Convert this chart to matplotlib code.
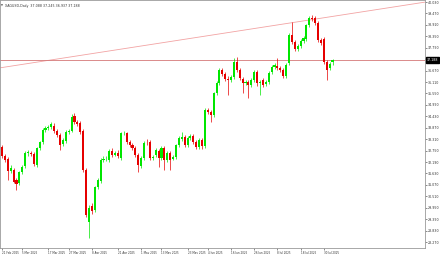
import matplotlib
matplotlib.use("Agg")
import matplotlib.pyplot as plt

# daily XAGUSD bars
opens = [32.93, 32.48, 32.34, 31.75, 31.80, 31.31, 31.16, 31.70, 31.99, 32.63,
         32.63, 32.58, 32.04, 32.88, 33.17, 33.76, 33.86, 33.90, 33.95, 33.71,
         33.51, 33.07, 33.22, 33.66, 33.71, 34.44, 34.15, 34.10, 33.71, 31.80,
         29.25, 30.03, 29.84, 30.97, 31.26, 32.29, 32.34, 32.29, 32.73, 32.53,
         32.63, 32.39, 33.61, 33.61, 33.17, 33.02, 32.88, 32.53, 31.99, 32.39,
         33.17, 33.17, 32.39, 32.53, 32.73, 32.39, 32.88, 32.29, 32.63, 32.34,
         32.44, 33.02, 33.32, 33.41, 33.02, 33.37, 33.46, 33.17, 32.93, 33.27,
         32.97, 34.74, 34.64, 34.49, 35.57, 36.06, 36.70, 36.50, 36.26, 36.21,
         36.35, 37.09, 36.70, 36.26, 36.06, 36.11, 35.96, 36.21, 36.60, 36.06,
         36.21, 36.01, 36.11, 36.60, 36.85, 36.89, 36.80, 36.70, 36.40, 37.04,
         38.41, 38.07, 37.73, 37.87, 38.12, 38.22, 38.90, 39.25, 39.25, 39.00,
         38.17, 38.22, 37.09, 36.80, 37.09]
highs = [33.02, 32.58, 32.44, 32.04, 31.90, 31.41, 31.75, 32.04, 32.73, 32.78,
         32.73, 32.68, 32.93, 33.22, 33.86, 33.95, 34.00, 34.15, 34.10, 33.81,
         33.61, 33.37, 33.76, 33.81, 34.54, 34.59, 34.25, 34.20, 33.81, 31.90,
         30.08, 30.18, 31.01, 31.41, 32.39, 32.48, 32.48, 32.83, 32.88, 32.73,
         32.78, 33.66, 33.71, 33.66, 33.27, 33.12, 32.97, 32.63, 32.48, 33.22,
         33.32, 33.27, 32.53, 32.88, 32.83, 32.97, 32.97, 32.73, 32.73, 32.53,
         33.07, 33.46, 33.66, 33.51, 33.46, 33.56, 33.56, 33.27, 33.37, 33.37,
         34.84, 34.84, 34.74, 35.62, 36.16, 36.80, 36.80, 36.60, 36.40, 36.45,
         37.29, 37.34, 36.80, 36.35, 36.21, 36.21, 36.31, 36.70, 36.70, 36.21,
         36.31, 36.21, 36.65, 36.94, 37.04, 37.29, 36.89, 36.80, 37.04, 38.51,
         39.05, 38.17, 37.97, 38.22, 38.36, 38.95, 39.34, 39.39, 39.34, 39.10,
         38.27, 38.32, 37.19, 37.09, 37.245]
lows = [32.39, 32.19, 31.31, 31.65, 31.16, 30.82, 31.06, 31.60, 31.90, 32.48,
        32.48, 31.99, 31.95, 32.78, 33.07, 33.66, 33.76, 33.81, 33.61, 33.41,
        32.78, 32.97, 33.12, 33.56, 33.66, 34.05, 33.95, 33.56, 31.70, 29.50,
        28.47, 29.64, 29.74, 30.87, 31.16, 32.19, 32.24, 32.19, 32.44, 32.48,
        32.39, 32.29, 33.51, 33.07, 32.93, 32.78, 32.44, 31.70, 31.90, 32.29,
        33.02, 32.29, 32.29, 32.44, 31.95, 32.29, 31.80, 32.19, 31.80, 32.29,
        32.34, 32.93, 33.22, 32.93, 32.93, 33.27, 33.07, 32.83, 32.83, 32.83,
        32.88, 34.54, 34.15, 34.39, 35.47, 35.96, 36.40, 36.16, 35.47, 36.11,
        36.26, 36.60, 36.21, 35.57, 35.96, 35.33, 35.86, 36.11, 35.91, 35.47,
        35.86, 35.91, 36.01, 36.50, 36.75, 36.70, 36.60, 36.31, 36.31, 36.94,
        37.97, 37.63, 37.63, 37.78, 38.02, 38.12, 38.80, 39.10, 38.90, 38.07,
        37.92, 36.99, 36.21, 36.70, 36.937]
closes = [32.48, 32.29, 31.75, 31.90, 31.21, 31.11, 31.70, 31.95, 32.63, 32.68,
          32.58, 32.09, 32.88, 33.17, 33.76, 33.86, 33.90, 34.05, 33.71, 33.51,
          33.02, 33.27, 33.66, 33.71, 34.39, 34.15, 34.05, 33.66, 31.80, 29.59,
          29.94, 29.79, 30.97, 31.31, 32.29, 32.34, 32.36, 32.73, 32.53, 32.63,
          32.48, 33.61, 33.63, 33.17, 33.02, 32.88, 32.53, 32.04, 32.39, 33.12,
          33.15, 32.39, 32.44, 32.78, 32.39, 32.88, 32.29, 32.63, 32.29, 32.44,
          33.02, 33.37, 33.41, 33.02, 33.37, 33.46, 33.17, 32.93, 33.27, 32.97,
          34.74, 34.64, 34.49, 35.57, 36.06, 36.70, 36.50, 36.26, 36.21, 36.35,
          37.09, 36.70, 36.31, 36.06, 36.11, 35.96, 36.21, 36.60, 36.06, 36.11,
          35.96, 36.11, 36.55, 36.85, 36.94, 36.80, 36.70, 36.40, 36.94, 38.41,
          38.07, 37.73, 37.87, 38.12, 38.27, 38.90, 39.25, 39.20, 39.00, 38.17,
          38.02, 37.09, 36.70, 36.99, 37.188]

date_labels = ["21 Feb 2025", "5 Mar 2025", "17 Mar 2025", "27 Mar 2025",
               "8 Apr 2025", "21 Apr 2025", "1 May 2025", "13 May 2025",
               "23 May 2025", "4 Jun 2025", "16 Jun 2025", "26 Jun 2025",
               "8 Jul 2025", "18 Jul 2025", "30 Jul 2025"]
date_bars = [0, 7, 16, 23, 31, 40, 48, 55, 64, 71, 79, 87, 95, 103, 111]

price_ticks = [40.030, 39.470, 38.910, 38.350, 37.790, 37.230, 36.670, 36.110,
               35.550, 34.990, 34.430, 33.870, 33.310, 32.750, 32.190, 31.630,
               31.070, 30.510, 29.950, 29.390, 28.830, 28.270]

trend_a = (0, 36.82)
trend_b = (107, 39.17)

title_txt = "XAGUSD,Daily  37.088 37.245 36.937 37.188"

bull = "#00e600"
bear = "#e60000"
grid_grey = "#9a9a9a"
fs = 2.3

fig = plt.figure(figsize=(4.4, 2.54), dpi=100)
ax = fig.add_axes([0, 6 / 254, 425 / 440, 248 / 254])

for i in range(len(closes)):
    o, h, l, c = opens[i], highs[i], lows[i], closes[i]
    col = bull if c >= o else bear
    ax.vlines(i, l, h, color=col, lw=0.5, zorder=2)
    body = max(abs(c - o), 0.02)
    ax.bar(i, body, bottom=min(o, c), width=0.72, color=col, lw=0, zorder=3)

# trend line and bid line
ax.axline(trend_a, trend_b, color="#f2a3a3", lw=0.6, zorder=1)
ax.axhline(closes[-1], color="#d47777", lw=0.6, zorder=1)

ax.set_xlim(-0.69, 145.9)
ax.set_ylim(27.98, 40.128)

ax.yaxis.tick_right()
ax.set_yticks(price_ticks)
ax.set_yticklabels(["" if abs(v - closes[-1]) < 0.2 else f"{v:.3f}" for v in price_ticks])
ax.set_xticks(date_bars)
ax.set_xticklabels(date_labels, ha="left")
ax.tick_params(axis="both", labelsize=fs, length=1.5, width=0.4, pad=1,
               colors="#333333")
ax.tick_params(axis="x", labelsize=1.95)
ax.tick_params(axis="y", pad=0.8)

for sp in ax.spines.values():
    sp.set_color(grid_grey)
    sp.set_linewidth(0.6)

ax.text(1.004, closes[-1], f"{closes[-1]:.3f}", transform=ax.get_yaxis_transform(),
        fontsize=fs, color="white", va="center", ha="left", clip_on=False,
        bbox=dict(boxstyle="square,pad=0.25", fc="black", ec="black"), zorder=5)

ax.text(0.003, 0.985, "\u25bc", transform=ax.transAxes, fontsize=1.8,
        color="#555555", va="top", ha="left")
ax.text(0.012, 0.985, title_txt, transform=ax.transAxes, fontsize=fs,
        color="#333333", va="top", ha="left")

fig.savefig("out.png", dpi=100)
